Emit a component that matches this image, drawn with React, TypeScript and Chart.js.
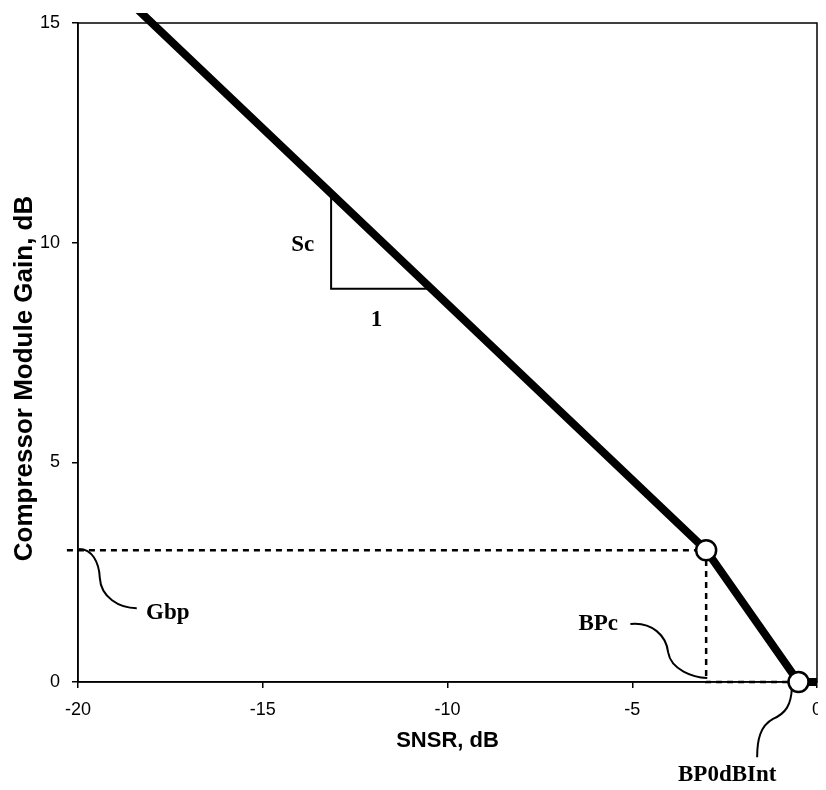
import React, { useEffect, useRef } from "react";
import { Chart, registerables } from "chart.js";

Chart.register(...registerables);

// ---- data ----
const xTickValues = [-20, -15, -10, -5, 0];
const yTickValues = [0, 5, 10, 15];
const gainX = [-18.5, -3, -0.5, 0];
const gainY = [15.4, 3, 0, 0];
const guideX = [-20.3, -3, -3, -0.5];
const guideY = [3, 3, 0, 0];
const markerX = [-3, -0.5];
const markerY = [3, 0];
const xTitle = "SNSR, dB";
const yTitle = "Compressor Module Gain, dB";

// ---- annotations (data coordinates) ----
const slopeTriangle = { x0: -13.15, yTop: 11.12, yBottom: 8.95, x1: -10.44 };
const leaderCurves: number[][] = [
  // start, c1, c2, mid, c3, c4, end  (x,y pairs)
  [-19.97, 3.03, -19.62, 3.03, -19.43, 2.73, -19.41, 2.37, -19.38, 1.93, -18.89, 1.68, -18.41, 1.68],
  [-5.05, 1.32, -4.46, 1.37, -4.08, 1.05, -4.03, 0.68, -3.95, 0.27, -3.35, 0.11, -2.97, 0.09],
  [-0.68, -0.137, -0.7, -0.52, -0.84, -0.71, -1.19, -0.84, -1.54, -1.0, -1.62, -1.32, -1.62, -1.71],
];
const labelTexts = ["Gbp", "BPc", "BP0dBInt", "Sc", "1"];
const labelX = [-17.57, -5.92, -2.43, -13.92, -11.92];
const labelY = [1.57, 1.32, -2.12, 9.95, 8.24];

const toPoints = (xs: number[], ys: number[]) => xs.map((x, i) => ({ x, y: ys[i] }));

const RIGHT_GAP = 9;
const TICK_FONT = "18px 'Liberation Sans', Arial, sans-serif";

const stretchPlugin = {
  id: "stretchRight",
  afterLayout(chart: any) {
    const a = chart.chartArea;
    const target = chart.width - RIGHT_GAP;
    const d = target - a.right;
    if (Math.abs(d) > 0.01) {
      a.right += d;
      a.width += d;
      const x = chart.scales.x;
      x.right += d;
      x.width += d;
      x.configure();
    }
  },
};

const annotationPlugin = {
  id: "annotations",
  beforeDatasetsDraw(chart: any) {
    const { ctx, chartArea: a, scales } = chart;
    const X = (v: number) => scales.x.getPixelForValue(v);
    const Y = (v: number) => scales.y.getPixelForValue(v);
    ctx.save();
    ctx.strokeStyle = "#000";
    ctx.lineWidth = 1.5;
    ctx.strokeRect(a.left, a.top, a.right - a.left, a.bottom - a.top);

    // x tick labels
    ctx.fillStyle = "#000";
    ctx.font = TICK_FONT;
    ctx.textAlign = "center";
    ctx.textBaseline = "middle";
    xTickValues.forEach((v) => {
      ctx.fillText(String(v), X(v), a.bottom + 6 + 11 + 10.8);
    });

    // slope triangle
    ctx.lineWidth = 2;
    ctx.beginPath();
    ctx.moveTo(X(slopeTriangle.x0), Y(slopeTriangle.yTop));
    ctx.lineTo(X(slopeTriangle.x0), Y(slopeTriangle.yBottom));
    ctx.lineTo(X(slopeTriangle.x1), Y(slopeTriangle.yBottom));
    ctx.stroke();

    // leader curves
    ctx.lineWidth = 2;
    for (const c of leaderCurves) {
      ctx.beginPath();
      ctx.moveTo(X(c[0]), Y(c[1]));
      ctx.bezierCurveTo(X(c[2]), Y(c[3]), X(c[4]), Y(c[5]), X(c[6]), Y(c[7]));
      ctx.bezierCurveTo(X(c[8]), Y(c[9]), X(c[10]), Y(c[11]), X(c[12]), Y(c[13]));
      ctx.stroke();
    }

    // labels
    ctx.font = "bold 23px 'Liberation Serif', 'Times New Roman', serif";
    labelTexts.forEach((t, i) => {
      ctx.fillText(t, X(labelX[i]), Y(labelY[i]));
    });

    // y axis title
    ctx.save();
    ctx.translate(32, (a.top + a.bottom) / 2 + 26);
    ctx.rotate(-Math.PI / 2);
    ctx.font = "bold 26px 'Liberation Sans', Arial, sans-serif";
    ctx.textAlign = "center";
    ctx.textBaseline = "alphabetic";
    ctx.fillText(yTitle, 0, 0);
    ctx.restore();

    ctx.restore();
  },
};

export default function App() {
  const ref = useRef<HTMLCanvasElement | null>(null);

  useEffect(() => {
    if (!ref.current) return;
    const tickFont = { family: "'Liberation Sans', Arial, sans-serif", size: 18 };
    const titleFont = { family: "'Liberation Sans', Arial, sans-serif", size: 22, weight: "bold" as const };
    const chart = new Chart(ref.current, {
      type: "scatter",
      data: {
        datasets: [
          {
            label: "breakpoints",
            data: toPoints(markerX, markerY),
            showLine: false,
            pointRadius: 10,
            pointBackgroundColor: "#fff",
            pointBorderColor: "#000",
            pointBorderWidth: 2.5,
            clip: false as any,
          },
          {
            label: "gain",
            data: toPoints(gainX, gainY),
            showLine: true,
            borderColor: "#000",
            borderWidth: 8,
            pointRadius: 0,
            tension: 0,
            borderJoinStyle: "round" as const,
            clip: { left: 0, top: 10, right: 10, bottom: 10 } as any,
          },
          {
            label: "guides",
            data: toPoints(guideX, guideY),
            showLine: true,
            borderColor: "#000",
            borderWidth: 2.5,
            borderDash: [6, 5],
            pointRadius: 0,
            tension: 0,
            clip: false as any,
          },
        ],
      },
      options: {
        responsive: false,
        animation: false,
        events: [],
        layout: { padding: { top: 15, right: RIGHT_GAP, bottom: 28, left: 0 } },
        plugins: { legend: { display: false }, tooltip: { enabled: false } },
        scales: {
          x: {
            type: "linear",
            min: -20,
            max: 0,
            afterBuildTicks: (s: any) => {
              s.ticks = xTickValues.map((v) => ({ value: v }));
            },
            afterFit: (s: any) => {
              s.height = 72;
              s.paddingLeft = 0;
              s.paddingRight = 0;
            },
            grid: { display: true, drawOnChartArea: false, drawTicks: true, tickLength: 6, color: "#000", lineWidth: 1.5 },
            border: { display: true, color: "#000", width: 1.5 },
            ticks: { display: false, color: "#000", font: tickFont, padding: 11, maxRotation: 0, autoSkip: false },
            title: { display: true, text: xTitle, color: "#000", font: titleFont, padding: 0 },
          },
          y: {
            type: "linear",
            min: 0,
            max: 15,
            afterBuildTicks: (s: any) => {
              s.ticks = yTickValues.map((v) => ({ value: v }));
            },
            afterFit: (s: any) => {
              s.width = 78;
              s.paddingTop = 0;
              s.paddingBottom = 0;
            },
            grid: { display: true, drawOnChartArea: false, drawTicks: true, tickLength: 6, color: "#000", lineWidth: 1.5 },
            border: { display: true, color: "#000", width: 1.5 },
            ticks: { color: "#000", font: tickFont, padding: 12, autoSkip: false },
            title: { display: false, text: yTitle },
          },
        },
      },
      plugins: [stretchPlugin, annotationPlugin],
    });
    return () => chart.destroy();
  }, []);

  return (
    <div style={{ background: "#fff" }}>
      <canvas ref={ref} width={826} height={774} style={{ display: "block", marginLeft: -8 }} />
    </div>
  );
}
